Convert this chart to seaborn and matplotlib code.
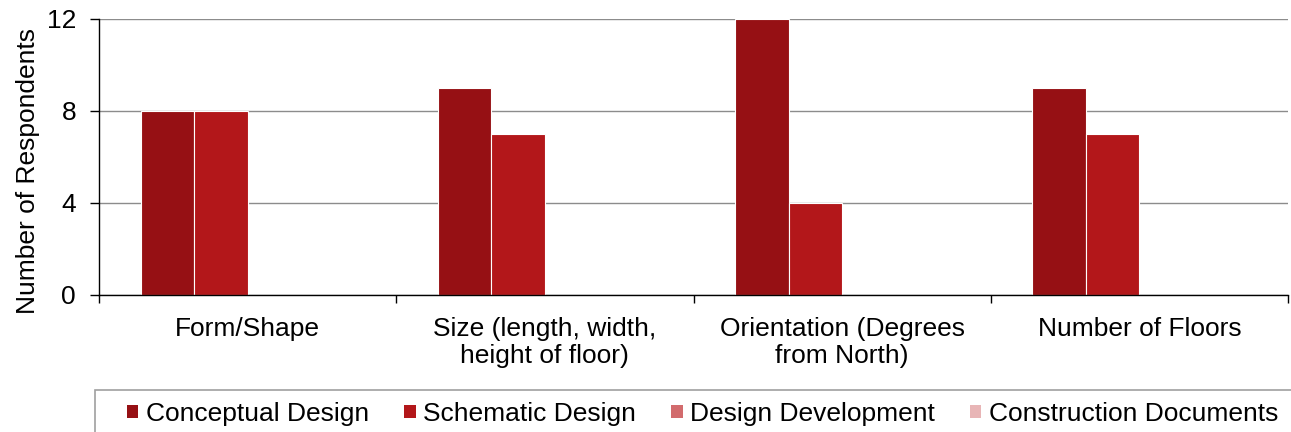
import matplotlib
matplotlib.use("Agg")
import matplotlib.pyplot as plt
import seaborn as sns
import pandas as pd
from matplotlib.patches import Rectangle, Patch
from matplotlib.ticker import FixedLocator

categories = ["Form/Shape", "Size (length, width,\nheight of floor)",
              "Orientation (Degrees\nfrom North)", "Number of Floors"]
series = ["Conceptual Design", "Schematic Design", "Design Development",
          "Construction Documents"]
conceptual = [8, 9, 12, 9]
schematic = [8, 7, 4, 7]
development = [0, 0, 0, 0]
construction = [0, 0, 0, 0]
colors = ["#961014", "#B3171A", "#D26B6D", "#E8B5B6"]

rows = []
for name, vals in zip(series, [conceptual, schematic, development, construction]):
    for cat, v in zip(categories, vals):
        rows.append({"Category": cat, "Phase": name, "Count": v})
df = pd.DataFrame(rows)

sns.set_theme(style="white")
plt.rcParams["font.family"] = ["Liberation Sans", "DejaVu Sans"]

FS = 19
W, H = 1291, 432
fig = plt.figure(figsize=(W / 100, H / 100), dpi=100)
ax = fig.add_axes([99 / W, 1 - 295 / H, (1288 - 99) / W, (295 - 19) / H])

sns.barplot(data=df, x="Category", y="Count", hue="Phase", order=categories,
            hue_order=series, palette=colors, saturation=1, width=0.72, gap=0,
            edgecolor="white", linewidth=0.8, legend=False, ax=ax)

ax.set_xlim(-0.5, 3.5)
ax.set_ylim(0, 12)
ax.set_yticks([0, 4, 8, 12])
ax.yaxis.grid(True, color="#8c8c8c", linewidth=1.0)
ax.set_axisbelow(True)
for s in ["top", "right"]:
    ax.spines[s].set_visible(False)
for s in ["left", "bottom"]:
    ax.spines[s].set_color("#000000")
    ax.spines[s].set_linewidth(1.0)

ax.tick_params(axis="y", which="major", length=6.5, width=1, color="#000000",
               direction="out", left=True, labelsize=FS, pad=10,
               labelcolor="#000000")
ax.tick_params(axis="x", which="major", length=0, labelsize=FS, pad=16,
               labelcolor="#000000")
ax.xaxis.set_minor_locator(FixedLocator([-0.5, 0.5, 1.5, 2.5, 3.5]))
ax.tick_params(axis="x", which="minor", length=6, width=1, color="#000000",
               direction="out", bottom=True)
for lbl in ax.get_xticklabels():
    lbl.set_horizontalalignment("center")
    lbl.set_linespacing(1.15)
ax.set_xlabel("")
ax.set_ylabel("Number of Respondents", fontsize=FS, color="#000000")
ax.yaxis.set_label_coords(-(99 - 40) / (1288 - 99), (295 - 171) / (295 - 19))

# legend box along the bottom edge
fig.patches.append(Rectangle((95 / W, -0.05), 1.1, (432 - 390) / H + 0.05,
                             transform=fig.transFigure, facecolor="white",
                             edgecolor="#a0a0a0", linewidth=1.2, zorder=0))
handles = [Patch(facecolor=c, edgecolor="none") for c in colors]
fig.legend(handles, series, loc="center", bbox_to_anchor=(703 / W, 1 - 414 / H),
           ncol=4, frameon=False, fontsize=FS, handlelength=0.42,
           handleheight=0.42, handletextpad=0.3, columnspacing=1.33,
           labelcolor="#000000", borderpad=0, borderaxespad=0)

fig.savefig("out.png", dpi=100)
